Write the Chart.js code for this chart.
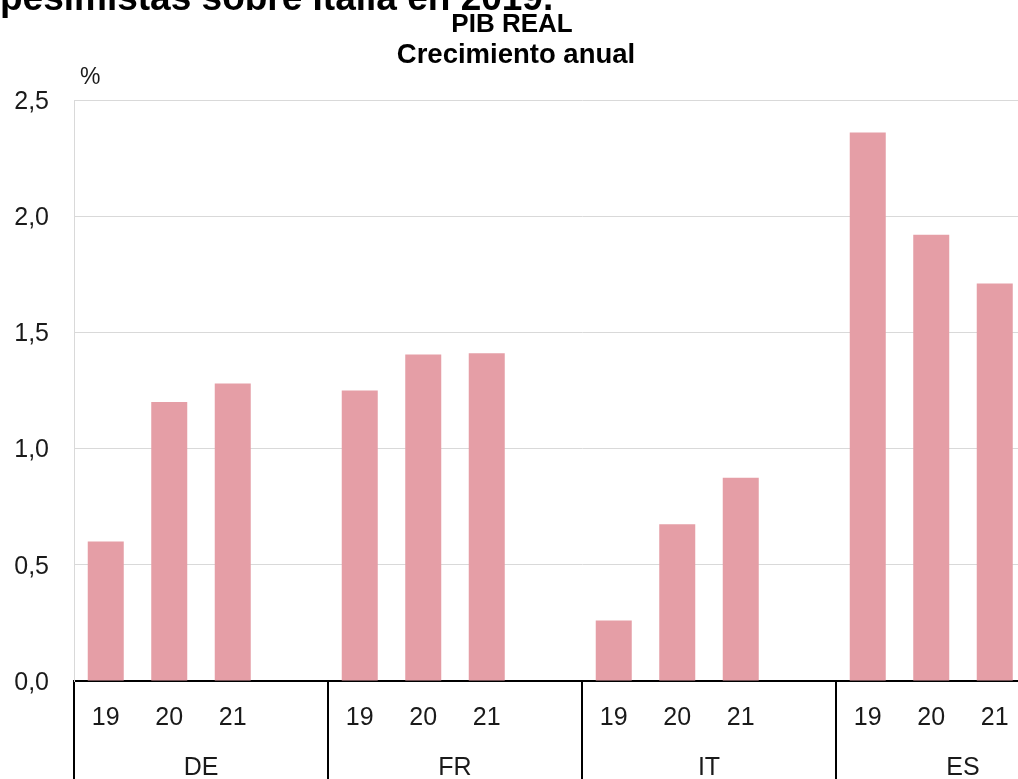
<!DOCTYPE html>
<html>
<head>
<meta charset="utf-8">
<script src="https://cdn.jsdelivr.net/npm/chart.js@4/dist/chart.umd.min.js"></script>
<style>
  html, body { margin:0; padding:0; background:#fff; overflow:hidden; width:1018px; height:779px; }
  #wrap { position:absolute; left:0; top:0; width:1100px; height:779px; }
  .t { position:absolute; font-family:'Liberation Sans', Arial, sans-serif; color:#000; white-space:nowrap; }
  #headline { left:0; top:-21px; font-size:37px; line-height:37px; font-weight:bold; }
  #t1 { left:512px; top:10px; transform:translateX(-50%); font-size:26px; line-height:26px; font-weight:bold; }
  #t2 { left:516px; top:40px; transform:translateX(-50%); font-size:27.5px; line-height:27.5px; font-weight:bold; }
  #unit { left:80px; top:65px; font-size:23px; line-height:23px; color:#1a1a1a; }
</style>
</head>
<body>
<div id="wrap">
  <canvas id="c" width="1100" height="779"></canvas>
</div>
<div class="t" id="headline">pesimistas sobre Italia en 2019.</div>
<div class="t" id="t1">PIB REAL</div>
<div class="t" id="t2">Crecimiento anual</div>
<div class="t" id="unit">%</div>
<script>
// ---- data ----
const countries = ['DE', 'FR', 'IT', 'ES'];
const years = ['19', '20', '21', ''];
const valuesDE = [0.60, 1.20, 1.28];
const valuesFR = [1.25, 1.405, 1.41];
const valuesIT = [0.26, 0.675, 0.875];
const valuesES = [2.36, 1.92, 1.71];
const yTicks = [0, 0.5, 1.0, 1.5, 2.0, 2.5];

// ---- build category table ----
const seriesByCountry = [valuesDE, valuesFR, valuesIT, valuesES];
const labels = [];
const data = [];
seriesByCountry.forEach(vals => {
  years.forEach((y, i) => {
    labels.push(y);
    data.push(i < vals.length ? vals[i] : null);
  });
});

const FONT = "'Liberation Sans', Arial, sans-serif";
const TXT = '#1a1a1a';

new Chart(document.getElementById('c'), {
  type: 'bar',
  data: {
    labels: labels,
    datasets: [{
      data: data,
      backgroundColor: '#e59ea6',
      borderWidth: 0,
      categoryPercentage: 1.0,
      barPercentage: 0.567
    }]
  },
  options: {
    responsive: false,
    animation: false,
    devicePixelRatio: 1,
    layout: { padding: { top: 100, right: 10, bottom: 0, left: 0 } },
    plugins: { legend: { display: false }, tooltip: { enabled: false }, title: { display: false } },
    scales: {
      x: {
        type: 'category',
        position: 'bottom',
        weight: 0,
        offset: true,
        grid: {
          offset: true,
          drawOnChartArea: false,
          drawTicks: true,
          tickLength: 50,
          lineWidth: 2,
          color: ctx => (ctx.index !== undefined && ctx.index % 4 === 0) ? '#000' : 'rgba(0,0,0,0)'
        },
        border: { display: true, color: '#000', width: 2 },
        ticks: { autoSkip: false, maxRotation: 0, minRotation: 0, padding: -28, color: TXT, font: { family: FONT, size: 25 } },
        afterFit: s => { s.height = 50; }
      },
      x2: {
        type: 'category',
        labels: countries,
        position: 'bottom',
        weight: 1,
        offset: true,
        grid: {
          offset: true,
          drawOnChartArea: false,
          drawTicks: true,
          tickLength: 48,
          lineWidth: 2,
          color: '#000'
        },
        border: { display: false },
        ticks: { autoSkip: false, maxRotation: 0, minRotation: 0, padding: -26, color: TXT, font: { family: FONT, size: 25 } },
        afterFit: s => { s.height = 48; }
      },
      y: {
        min: 0,
        max: 2.5,
        afterBuildTicks: s => { s.ticks = yTicks.map(v => ({ value: v })); },
        grid: { color: '#d9d9d9', lineWidth: 1, drawTicks: false },
        border: { display: true, color: '#d9d9d9', width: 1 },
        ticks: {
          padding: 25,
          labelOffset: 2,
          color: TXT,
          font: { family: FONT, size: 25 },
          callback: v => Number(v).toFixed(1).replace('.', ',')
        },
        afterFit: s => { s.width = 74; }
      }
    }
  }
});
</script>
</body>
</html>
